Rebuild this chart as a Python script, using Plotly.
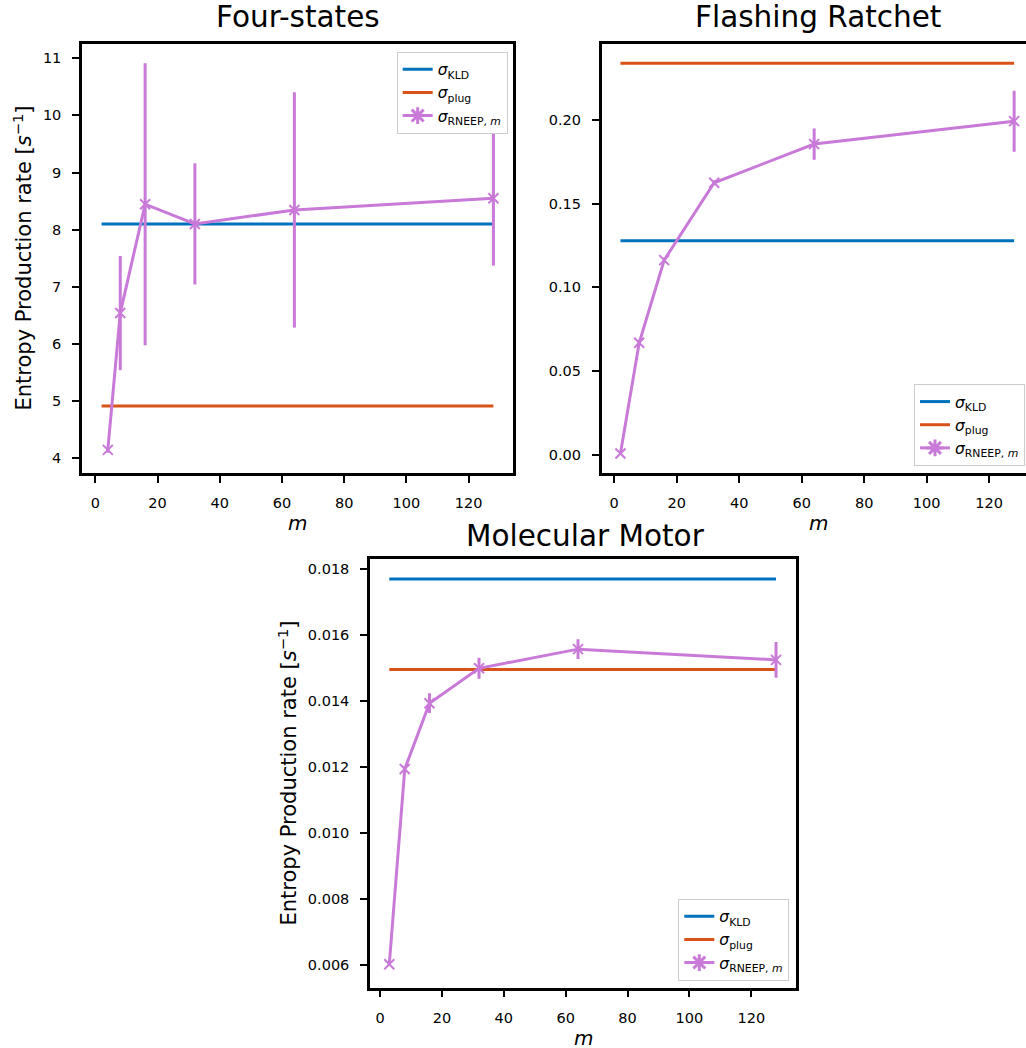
import plotly.graph_objects as go

# ---------------- data ----------------
# Four-states
fs_m = [4, 8, 16, 32, 64, 128]
fs_rneep = [4.145, 6.54, 8.445, 8.10, 8.345, 8.55]
fs_err = [0.05, 1.00, 2.47, 1.06, 2.06, 1.18]
fs_line_m = [2, 128]
fs_kld = 8.10
fs_plug = 4.915

# Flashing Ratchet
fr_m = [2, 8, 16, 32, 64, 128]
fr_rneep = [0.0008, 0.0669, 0.1163, 0.1625, 0.1856, 0.1993]
fr_err = [0.001, 0.0015, 0.0015, 0.0015, 0.0093, 0.0182]
fr_line_m = [2, 128]
fr_kld = 0.1279
fr_plug = 0.2339

# Molecular Motor
mm_m = [3, 8, 16, 32, 64, 128]
mm_rneep = [0.00603, 0.01194, 0.013934, 0.01499, 0.01557, 0.015245]
mm_err = [0.00005, 0.00008, 0.00030, 0.00032, 0.00030, 0.00054]
mm_line_m = [3, 128]
mm_kld = 0.017697
mm_plug = 0.01495

titles = ["Four-states", "Flashing Ratchet", "Molecular Motor"]
ylabel = "Entropy Production rate [<i>s</i><sup>−1</sup>]"
xlabel = "<i>m</i>"
leg_names = ["<i>σ</i><sub>KLD</sub>", "<i>σ</i><sub>plug</sub>", "<i>σ</i><sub>RNEEP, <i>m</i></sub>"]

BLUE = "#0072BD"
ORANGE = "#D95319"
PURPLE = "#C979D8"
FONT = "DejaVu Sans"
W, H = 1026, 1048

fig = go.Figure()

panels = [
    dict(m=fs_m, y=fs_rneep, e=fs_err, lm=fs_line_m, kld=fs_kld, plug=fs_plug, ax="", leg="legend"),
    dict(m=fr_m, y=fr_rneep, e=fr_err, lm=fr_line_m, kld=fr_kld, plug=fr_plug, ax="2", leg="legend2"),
    dict(m=mm_m, y=mm_rneep, e=mm_err, lm=mm_line_m, kld=mm_kld, plug=mm_plug, ax="3", leg="legend3"),
]

for p in panels:
    xa, ya = "x" + p["ax"], "y" + p["ax"]
    fig.add_trace(go.Scatter(x=p["lm"], y=[p["kld"]] * 2, mode="lines", line=dict(color=BLUE, width=3),
                             name=leg_names[0], xaxis=xa, yaxis=ya, legend=p["leg"]))
    fig.add_trace(go.Scatter(x=p["lm"], y=[p["plug"]] * 2, mode="lines", line=dict(color=ORANGE, width=3),
                             name=leg_names[1], xaxis=xa, yaxis=ya, legend=p["leg"]))
    fig.add_trace(go.Scatter(x=p["m"], y=p["y"], mode="lines+markers",
                             line=dict(color=PURPLE, width=3),
                             marker=dict(symbol="x-thin-open", size=10, color=PURPLE,
                                         line=dict(color=PURPLE, width=2)),
                             error_y=dict(type="data", array=p["e"], visible=True, color=PURPLE,
                                          thickness=3, width=0),
                             showlegend=False, xaxis=xa, yaxis=ya))
    # legend-only handle
    fig.add_trace(go.Scatter(x=[None], y=[None], mode="lines+markers",
                             line=dict(color=PURPLE, width=3),
                             marker=dict(symbol="asterisk-open", size=14, color=PURPLE,
                                         line=dict(color=PURPLE, width=3)),
                             name=leg_names[2], xaxis=xa, yaxis=ya, legend=p["leg"]))

def px(v):
    return v / W

def py(v):
    return 1 - v / H

axis_common = dict(showline=True, linecolor="black", linewidth=2.5, ticks="outside", ticklen=7,
                   tickwidth=2, tickcolor="black", showgrid=False, zeroline=False,
                   tickfont=dict(family=FONT, size=14.5, color="black"), ticklabelstandoff=8)

leg_common = dict(bgcolor="white", bordercolor="#cccccc", borderwidth=1,
                  font=dict(family=FONT, size=15.5, color="black"), itemwidth=30,
                  tracegroupgap=0)

fig.update_layout(
    width=W, height=H, margin=dict(l=0, r=0, t=0, b=0),
    paper_bgcolor="white", plot_bgcolor="white",
    font=dict(family=FONT, color="black"),
    xaxis=dict(domain=[px(82), px(513)], range=[-4.3, 134.3], tick0=0, dtick=20, anchor="y",
               mirror=True, **axis_common),
    yaxis=dict(domain=[py(473), py(44)], range=[3.74, 11.25], tick0=4, dtick=1, anchor="x",
               mirror=True, **axis_common),
    xaxis2=dict(domain=[px(601.7), 1.0], range=[-4.0, 131.8], tick0=0, dtick=20, anchor="y2",
                mirror=True, **axis_common),
    yaxis2=dict(domain=[py(473), py(44)], range=[-0.0109, 0.2454], tick0=0, dtick=0.05,
                tickformat=".2f", anchor="x2", mirror=False, **axis_common),
    xaxis3=dict(domain=[px(370), px(796)], range=[-3.23, 134.45], tick0=0, dtick=20, anchor="y3",
                mirror=True, **axis_common),
    yaxis3=dict(domain=[py(987.7), py(559.3)], range=[0.00532, 0.01829], tick0=0.006, dtick=0.002,
                tickformat=".3f", anchor="x3", mirror=True, **axis_common),
    legend=dict(x=px(507.7), y=py(51.7), xanchor="right", yanchor="top", **leg_common),
    legend2=dict(x=px(1025), y=py(466), xanchor="right", yanchor="bottom", **leg_common),
    legend3=dict(x=px(789.3), y=py(980.7), xanchor="right", yanchor="bottom", **leg_common),
)

ann = []
# titles
for t, cx, cy in [(titles[0], 297.5, 17), (titles[1], 818, 17), (titles[2], 585, 535.6)]:
    ann.append(dict(text=t, x=px(cx), y=py(cy), xref="paper", yref="paper", showarrow=False,
                    xanchor="center", yanchor="middle", font=dict(family=FONT, size=29.5, color="black")))
# x labels
for cx, cy in [(297.5, 523), (818, 523), (583, 1038)]:
    ann.append(dict(text=xlabel, x=px(cx), y=py(cy), xref="paper", yref="paper", showarrow=False,
                    xanchor="center", yanchor="middle", font=dict(family=FONT, size=20, color="black")))
# y labels
for cx, cy in [(22, 258.5), (287, 773.5)]:
    ann.append(dict(text=ylabel, x=px(cx), y=py(cy), xref="paper", yref="paper", showarrow=False,
                    textangle=-90, xanchor="center", yanchor="middle",
                    font=dict(family=FONT, size=21, color="black")))
fig.update_layout(annotations=ann)

fig.write_html("out.html")
